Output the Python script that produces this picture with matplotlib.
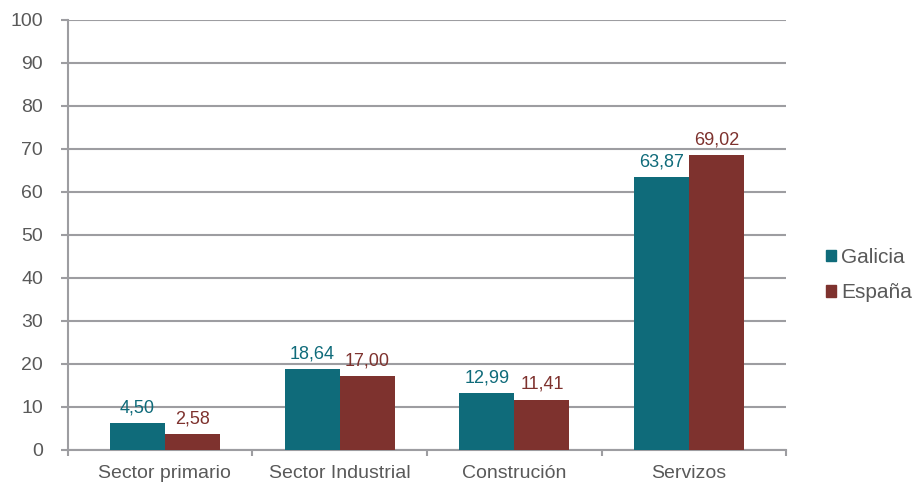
import numpy as np
import matplotlib
matplotlib.use("Agg")
import matplotlib.pyplot as plt
from matplotlib.patches import Patch

plt.rcParams['font.family'] = ['Liberation Sans', 'DejaVu Sans']

categorias = ["Sector primario", "Sector Industrial", "Construción", "Servizos"]
series = ["Galicia", "España"]
galicia = [6.1, 18.7, 13.1, 63.4]
espana = [3.6, 17.0, 11.6, 68.5]
etiquetas_galicia = ["4,50", "18,64", "12,99", "63,87"]
etiquetas_espana = ["2,58", "17,00", "11,41", "69,02"]
yticks = [0, 10, 20, 30, 40, 50, 60, 70, 80, 90, 100]

col_gal = "#0f6b7a"
col_esp = "#7e322e"
gris = "#9d9da1"
texto = "#595959"

fig = plt.figure(figsize=(9.15, 4.82), dpi=100)
ax = fig.add_axes([68/915, 1 - 449.5/482, (786-68)/915, (449.5-20)/482])

x = np.arange(len(categorias))
w = 0.315
b1 = ax.bar(x - w/2, galicia, w, color=col_gal, zorder=3)
b2 = ax.bar(x + w/2, espana, w, color=col_esp, zorder=3)

for rect, lab in zip(b1, etiquetas_galicia):
    ax.annotate(lab, (rect.get_x() + rect.get_width()/2, rect.get_height()),
                xytext=(0, 5), textcoords="offset points", ha="center", va="bottom",
                fontsize=13, color=col_gal)
for rect, lab in zip(b2, etiquetas_espana):
    ax.annotate(lab, (rect.get_x() + rect.get_width()/2, rect.get_height()),
                xytext=(0, 5), textcoords="offset points", ha="center", va="bottom",
                fontsize=13, color=col_esp)

ext = 9.5/174.7
ax.set_xlim(-0.5 - ext, 3.5 + ext)
ax.set_ylim(0, 100)
ax.set_yticks(yticks)
ax.grid(axis="y", color=gris, linewidth=1.5, zorder=0)

ax.set_xticks(x)
ax.set_xticklabels(categorias)
ax.set_xticks([-0.5 - ext, 0.5, 1.5, 2.5, 3.5 + ext], minor=True)
ax.tick_params(axis="x", which="major", length=0, pad=11, labelsize=14, labelcolor=texto)
ax.tick_params(axis="x", which="minor", length=4, width=1.5, color=gris)
ax.tick_params(axis="y", length=5, width=1.5, color=gris, pad=13, labelsize=14, labelcolor=texto)

for s in ["top", "right"]:
    ax.spines[s].set_visible(False)
for s in ["left", "bottom"]:
    ax.spines[s].set_color(gris)
    ax.spines[s].set_linewidth(1.5)

handles = [Patch(color=col_gal), Patch(color=col_esp)]
leg = fig.legend(handles, series, loc="center left", bbox_to_anchor=(826/915, 1 - 275/482),
                 frameon=False, fontsize=15, handlelength=0.48, handleheight=0.48,
                 handletextpad=0.24, labelspacing=0.78, borderpad=0, borderaxespad=0)
for t in leg.get_texts():
    t.set_color(texto)

fig.savefig("out.png", dpi=100)
